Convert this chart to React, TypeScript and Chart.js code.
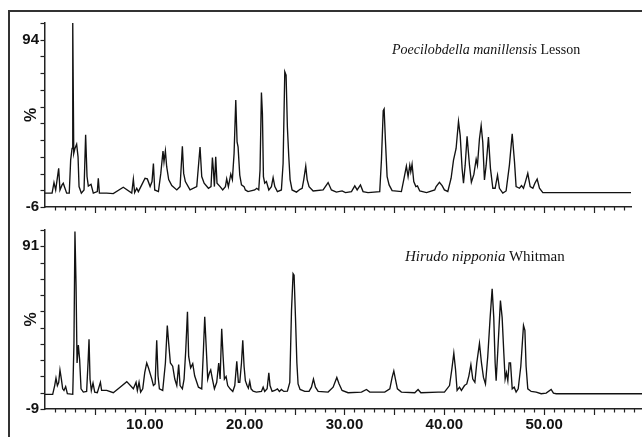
import React, { useEffect, useRef } from 'react';
import { Chart, registerables } from 'chart.js';

Chart.register(...registerables);

// ---- Data (retention time in minutes, relative intensity in %) ----
const topTime = [
  0, 0.71, 0.90, 1.07, 1.37, 1.50, 1.71, 1.83, 2.00, 2.17,
  2.43, 2.57, 2.71, 2.78, 2.88, 3.00, 3.17, 3.31, 3.41, 3.64,
  3.91, 4.07, 4.21, 4.34, 4.61, 4.84, 5.24, 5.34, 5.45, 6.18,
  6.84, 7.84, 8.69, 8.85, 8.98, 9.19, 9.35, 9.69, 10.02, 10.25,
  10.53, 10.72, 10.86, 10.99, 11.36, 11.60, 11.82, 11.92, 12.06, 12.19,
  12.39, 12.70, 13.20, 13.53, 13.76, 13.89, 14.06, 14.53, 15.20, 15.53,
  15.70, 15.94, 16.37, 16.63, 16.77, 16.87, 16.97, 17.10, 17.23, 17.54,
  17.80, 18.07, 18.20, 18.37, 18.61, 18.77, 18.94, 19.11, 19.24, 19.34,
  19.51, 19.68, 19.94, 20.07, 20.34, 21.01, 21.21, 21.41, 21.54, 21.68,
  21.78, 21.88, 22.01, 22.18, 22.42, 22.68, 22.85, 23.02, 23.28, 23.68,
  23.85, 24.02, 24.15, 24.28, 24.42, 24.55, 24.75, 25.19, 25.55, 25.76,
  25.92, 26.12, 26.26, 26.45, 26.86, 27.86, 28.36, 28.69, 29.19, 29.76,
  30.10, 30.70, 31.03, 31.27, 31.60, 31.86, 32.36, 33.53, 33.70, 33.88,
  33.97, 34.10, 34.27, 34.47, 34.77, 35.70, 35.94, 36.20, 36.37, 36.54,
  36.64, 36.77, 36.94, 37.15, 37.31, 37.54, 38.22, 39.04, 39.18, 39.51,
  39.78, 40.01, 40.35, 40.68, 40.92, 41.18, 41.42, 41.59, 41.78, 41.92,
  42.09, 42.28, 42.52, 42.71, 42.96, 43.19, 43.32, 43.52, 43.69, 43.85,
  44.02, 44.19, 44.42, 44.62, 44.86, 45.09, 45.33, 45.52, 45.86, 46.19,
  46.52, 46.80, 47.03, 47.19, 47.53, 47.73, 47.93, 48.13, 48.36, 48.60,
  48.87, 49.07, 49.30, 49.53, 49.87, 58.7,
];
const topSignal = [
  2.3, 2.3, 8.6, 4.2, 17.1, 4.2, 7.2, 8.2, 5.2, 2.3,
  2.3, 22, 29, 104, 26, 29, 31.5, 24, 6.2, 2.3,
  4.2, 37.2, 12.2, 6.5, 7.6, 2.3, 3.2, 11.2, 2.3, 2.3,
  2.0, 5.8, 2.3, 10.6, 2.6, 5.2, 3.2, 7.2, 11.2, 10.8,
  6.2, 9.2, 20, 4.2, 3.2, 14.1, 27.5, 21, 27.5, 18.1,
  10.4, 6.8, 4.2, 6.2, 30.3, 14.1, 9.2, 4.2, 6.2, 29.9,
  12.2, 8.2, 5.2, 6.2, 23.6, 16.1, 6.2, 24, 8.2, 6.2,
  4.2, 6.2, 10.8, 6.2, 13.7, 10.4, 26, 57.9, 32.9, 29.9,
  13.1, 7.2, 6.2, 4.2, 3.2, 4.2, 5.2, 4.2, 16.1, 62.5,
  49.6, 12.2, 8.2, 9.2, 4.2, 6.2, 11.6, 6.2, 3.2, 4.2,
  20, 74.9, 72.9, 41.7, 24, 10.4, 4.2, 2.9, 4.6, 5.2,
  10.4, 18.4, 10.4, 6.2, 3.6, 4.2, 8.6, 4.2, 2.9, 3.6,
  2.6, 3.2, 6.6, 4.2, 7.2, 3.2, 2.6, 3.2, 22, 51.6,
  52.6, 33.9, 12.2, 7.2, 3.8, 3.2, 10.4, 18.4, 12.2, 19,
  15.1, 19.6, 9.2, 6.2, 6.6, 3.6, 2.6, 4.2, 6.2, 8.8,
  6.8, 4.2, 3.3, 11.2, 22, 29, 45.1, 36.8, 17.1, 8.2,
  19, 36.2, 19, 8.8, 13.5, 22.6, 19, 34.8, 42.7, 32.9,
  10.2, 19, 35.8, 17.1, 5.2, 5.2, 13, 5.2, 2.3, 3.6,
  19, 37.8, 21, 6.2, 5.2, 6.8, 5.2, 9.2, 14.1, 6.2,
  5.2, 8.2, 10.7, 5.2, 2.6, 2.6,
];

const bottomTime = [
  0, 0.77, 0.97, 1.10, 1.24, 1.37, 1.50, 1.64, 1.77, 1.90,
  2.07, 2.24, 2.78, 2.90, 3.00, 3.11, 3.21, 3.34, 3.47, 3.61,
  3.84, 4.17, 4.31, 4.41, 4.51, 4.64, 4.81, 4.98, 5.24, 5.55,
  5.67, 6.18, 6.84, 7.52, 8.19, 8.85, 9.12, 9.25, 9.42, 9.58,
  9.79, 9.99, 10.19, 10.36, 10.70, 10.86, 11.03, 11.19, 11.32, 11.46,
  11.79, 12.06, 12.25, 12.39, 12.56, 12.79, 13.00, 13.20, 13.39, 13.53,
  13.76, 13.93, 14.10, 14.27, 14.39, 14.59, 14.80, 14.99, 15.37, 15.70,
  15.87, 16.00, 16.13, 16.30, 16.47, 16.60, 16.77, 16.97, 17.20, 17.40,
  17.54, 17.70, 17.84, 17.97, 18.14, 18.30, 18.54, 18.81, 19.01, 19.21,
  19.37, 19.51, 19.68, 19.81, 19.94, 20.07, 20.24, 20.37, 20.51, 20.64,
  20.85, 21.17, 21.68, 21.85, 22.01, 22.25, 22.42, 22.54, 22.75, 23.02,
  23.28, 23.48, 23.68, 23.92, 24.28, 24.52, 24.69, 24.85, 24.95, 25.09,
  25.23, 25.35, 25.55, 26.02, 26.45, 26.69, 26.89, 27.09, 27.36, 28.36,
  28.86, 29.23, 29.46, 29.76, 30.36, 31.70, 32.20, 32.53, 34.03, 34.54,
  34.77, 34.94, 35.10, 35.30, 35.70, 37.04, 37.37, 37.65, 39.38, 40.01,
  40.52, 40.75, 40.95, 41.12, 41.28, 41.52, 41.71, 42.02, 42.25, 42.46,
  42.66, 42.85, 43.06, 43.25, 43.52, 43.72, 43.92, 44.12, 44.35, 44.59,
  44.79, 44.95, 45.09, 45.19, 45.36, 45.62, 45.79, 45.96, 46.09, 46.22,
  46.36, 46.49, 46.63, 46.80, 47.00, 47.19, 47.40, 47.66, 47.93, 48.07,
  48.19, 48.36, 48.70, 49.20, 49.70, 50.20, 50.70, 50.93, 51.20, 59.8,
];
const bottomSignal = [
  0, 0, 5.4, 10, 5.4, 7.3, 15, 9.4, 3.4, 2.4,
  4.8, 0.4, 0, 31.3, 100, 67.2, 19.3, 30.3, 21.3, 3.4,
  1.4, 1.8, 19.3, 33.9, 9.4, 2.4, 7, 1.4, 1, 7.4,
  2.4, 2.4, 1, 4.4, 7.8, 3.4, 7.4, 2.4, 7.4, 1.4,
  3.4, 13.3, 19.3, 16.3, 9.4, 5.4, 6.4, 33.3, 11.4, 3.4,
  2.4, 19.3, 42.3, 31.3, 19.3, 17.3, 9.4, 5.4, 18.3, 5.4,
  3.4, 9.4, 27.3, 50.7, 23.3, 16.3, 18.9, 11.4, 4.4, 3.4,
  27.3, 47.7, 31.3, 9.4, 13.3, 15, 9.4, 3.4, 7.4, 19.3,
  9.4, 40.3, 23.3, 9.4, 11, 5.4, 3.4, 1.8, 5.4, 20.3,
  7.4, 7.4, 19.3, 33.3, 17.3, 8.4, 5.4, 3.8, 8, 3.4,
  2, 1.4, 1.8, 4.4, 1.8, 3.4, 13.3, 5.4, 1.8, 2.4,
  3.4, 1.8, 3, 1.8, 2, 7.4, 51.3, 74.2, 73.2, 47.3,
  19.3, 6.4, 3, 1.8, 1.8, 4.4, 9.4, 4.4, 1.8, 1.4,
  4.4, 10.4, 6.4, 2.4, 1, 1.4, 3, 1.4, 1.4, 3.4,
  10.4, 14.4, 9.4, 3.4, 1.4, 1, 3, 1, 1.4, 1.4,
  5.4, 15.4, 25.3, 15.4, 2.4, 4.4, 2.4, 5.4, 6.4, 11.4,
  18.3, 9.4, 7.4, 19.3, 31.3, 19.3, 10.4, 6.4, 23.3, 47.3,
  64.8, 47.3, 19.3, 8.4, 27.3, 57.6, 47.3, 25.3, 9.4, 13.3,
  8.4, 19.3, 19.3, 3.4, 4.4, 1.4, 3.4, 17.3, 42.3, 39.3,
  17.3, 3.4, 1.8, 1.4, 0.4, 0.8, 3, 0.8, 0.4, 0.4,
];

// ---- Labels ----
const topTitleItalic = 'Poecilobdella manillensis';
const topTitleRest = 'Lesson';
const bottomTitleItalic = 'Hirudo nipponia';
const bottomTitleRest = 'Whitman';
const yAxisTitle = '%';
const topYLabels = [-6, 94];
const bottomYLabels = [-9, 91];
const xLabels = [10, 20, 30, 40, 50];

const SANS = '"Liberation Sans", Arial, sans-serif';
const SERIF = '"Liberation Serif", "Times New Roman", serif';
const INK = '#121212';

const tickPlugin = {
  id: 'chromTicks',
  afterDraw(chart: any) {
    const { ctx, chartArea, scales } = chart;
    const xs = scales.x;
    const ys = scales.y;
    ctx.save();
    ctx.strokeStyle = '#222';
    ctx.lineWidth = 1.2;
    for (let t = Math.ceil(xs.min); t <= xs.max + 1e-6; t += 1) {
      if (t === 0) continue;
      const px = Math.round(xs.getPixelForValue(t)) + 0.5;
      const len = t % 5 === 0 ? 6 : 3.5;
      ctx.beginPath();
      ctx.moveTo(px, chartArea.bottom);
      ctx.lineTo(px, chartArea.bottom + len);
      ctx.stroke();
    }
    for (let v = ys.min; v <= ys.max + 1e-6; v += 10) {
      const py = Math.round(ys.getPixelForValue(v)) + 0.5;
      ctx.beginPath();
      ctx.moveTo(chartArea.left, py);
      ctx.lineTo(chartArea.left - 4.5, py);
      ctx.stroke();
    }
    ctx.restore();
  },
};

function makeConfig(time: number[], signal: number[], p: any): any {
  const tickFont = { family: SANS, size: 15, weight: 'bold' as const };
  return {
    type: 'line',
    data: {
      datasets: [
        {
          data: time.map((t, i) => ({ x: t, y: signal[i] })),
          borderColor: INK,
          borderWidth: 1.35,
          pointRadius: 0,
          tension: 0,
          fill: false,
        },
      ],
    },
    options: {
      animation: false,
      responsive: false,
      layout: { padding: p.padding },
      plugins: {
        legend: { display: false },
        tooltip: { enabled: false },
        title: { display: false },
      },
      scales: {
        x: {
          type: 'linear',
          position: 'bottom',
          min: p.xMin,
          max: p.xMax,
          grid: { display: true, drawOnChartArea: false, drawTicks: false },
          border: { display: true, color: '#222', width: 1.5 },
          ticks: {
            display: p.showX,
            padding: 7,
            font: tickFont,
            color: INK,
            maxRotation: 0,
            autoSkip: false,
            callback: (v: any) => Number(v).toFixed(2),
          },
          afterBuildTicks: (s: any) => {
            s.ticks = xLabels.map((v) => ({ value: v }));
          },
          afterFit: (s: any) => {
            s.height = p.xHeight;
          },
        },
        y: {
          type: 'linear',
          min: p.yMin,
          max: p.yMax,
          grid: { display: true, drawOnChartArea: false, drawTicks: false },
          border: { display: true, color: '#222', width: 1.5 },
          ticks: {
            padding: 6,
            font: tickFont,
            color: INK,
            autoSkip: false,
            callback: (v: any) => String(v),
          },
          afterBuildTicks: (s: any) => {
            s.ticks = p.yLabels.map((v: number) => ({ value: v }));
          },
          afterFit: (s: any) => {
            s.width = 45;
          },
          title: {
            display: true,
            text: yAxisTitle,
            font: { family: SANS, size: 16, weight: 'bold' },
            color: INK,
            padding: { top: 22, bottom: 0 },
          },
        },
      },
    },
    plugins: [tickPlugin],
  };
}

export default function App() {
  const topRef = useRef<HTMLCanvasElement>(null);
  const bottomRef = useRef<HTMLCanvasElement>(null);

  useEffect(() => {
    const top = new Chart(
      topRef.current as HTMLCanvasElement,
      makeConfig(topTime, topSignal, {
        padding: { top: 23, left: 0, right: 11, bottom: 0 },
        xMin: 0,
        xMax: 58.7,
        yMin: -6,
        yMax: 104,
        yLabels: topYLabels,
        showX: false,
        xHeight: 13,
      })
    );
    const bottom = new Chart(
      bottomRef.current as HTMLCanvasElement,
      makeConfig(bottomTime, bottomSignal, {
        padding: { top: 10, left: 0, right: 0, bottom: 0 },
        xMin: 0,
        xMax: 59.8,
        yMin: -9,
        yMax: 101,
        yLabels: bottomYLabels,
        showX: true,
        xHeight: 28,
      })
    );
    return () => {
      top.destroy();
      bottom.destroy();
    };
  }, []);

  const titleStyle: React.CSSProperties = {
    position: 'absolute',
    fontFamily: SERIF,
    whiteSpace: 'nowrap',
    color: INK,
  };

  return (
    <div
      style={{
        position: 'fixed',
        left: 0,
        top: 0,
        width: 642,
        height: 437,
        background: '#fff',
        overflow: 'hidden',
      }}
    >
      <div
        style={{
          position: 'absolute',
          left: 8,
          top: 10,
          width: 640,
          height: 440,
          borderTop: '2px solid #333',
          borderLeft: '2px solid #333',
        }}
      />
      <canvas
        ref={topRef}
        width={642}
        height={222}
        style={{ position: 'absolute', left: 0, top: 0, width: 642, height: 222 }}
      />
      <canvas
        ref={bottomRef}
        width={642}
        height={222}
        style={{ position: 'absolute', left: 0, top: 215, width: 642, height: 222 }}
      />
      <div style={{ ...titleStyle, left: 392, top: 43, fontSize: 14, lineHeight: '14px' }}>
        <i>{topTitleItalic}</i> {topTitleRest}
      </div>
      <div style={{ ...titleStyle, left: 405, top: 249, fontSize: 15, lineHeight: '15px' }}>
        <i>{bottomTitleItalic}</i> {bottomTitleRest}
      </div>
    </div>
  );
}
